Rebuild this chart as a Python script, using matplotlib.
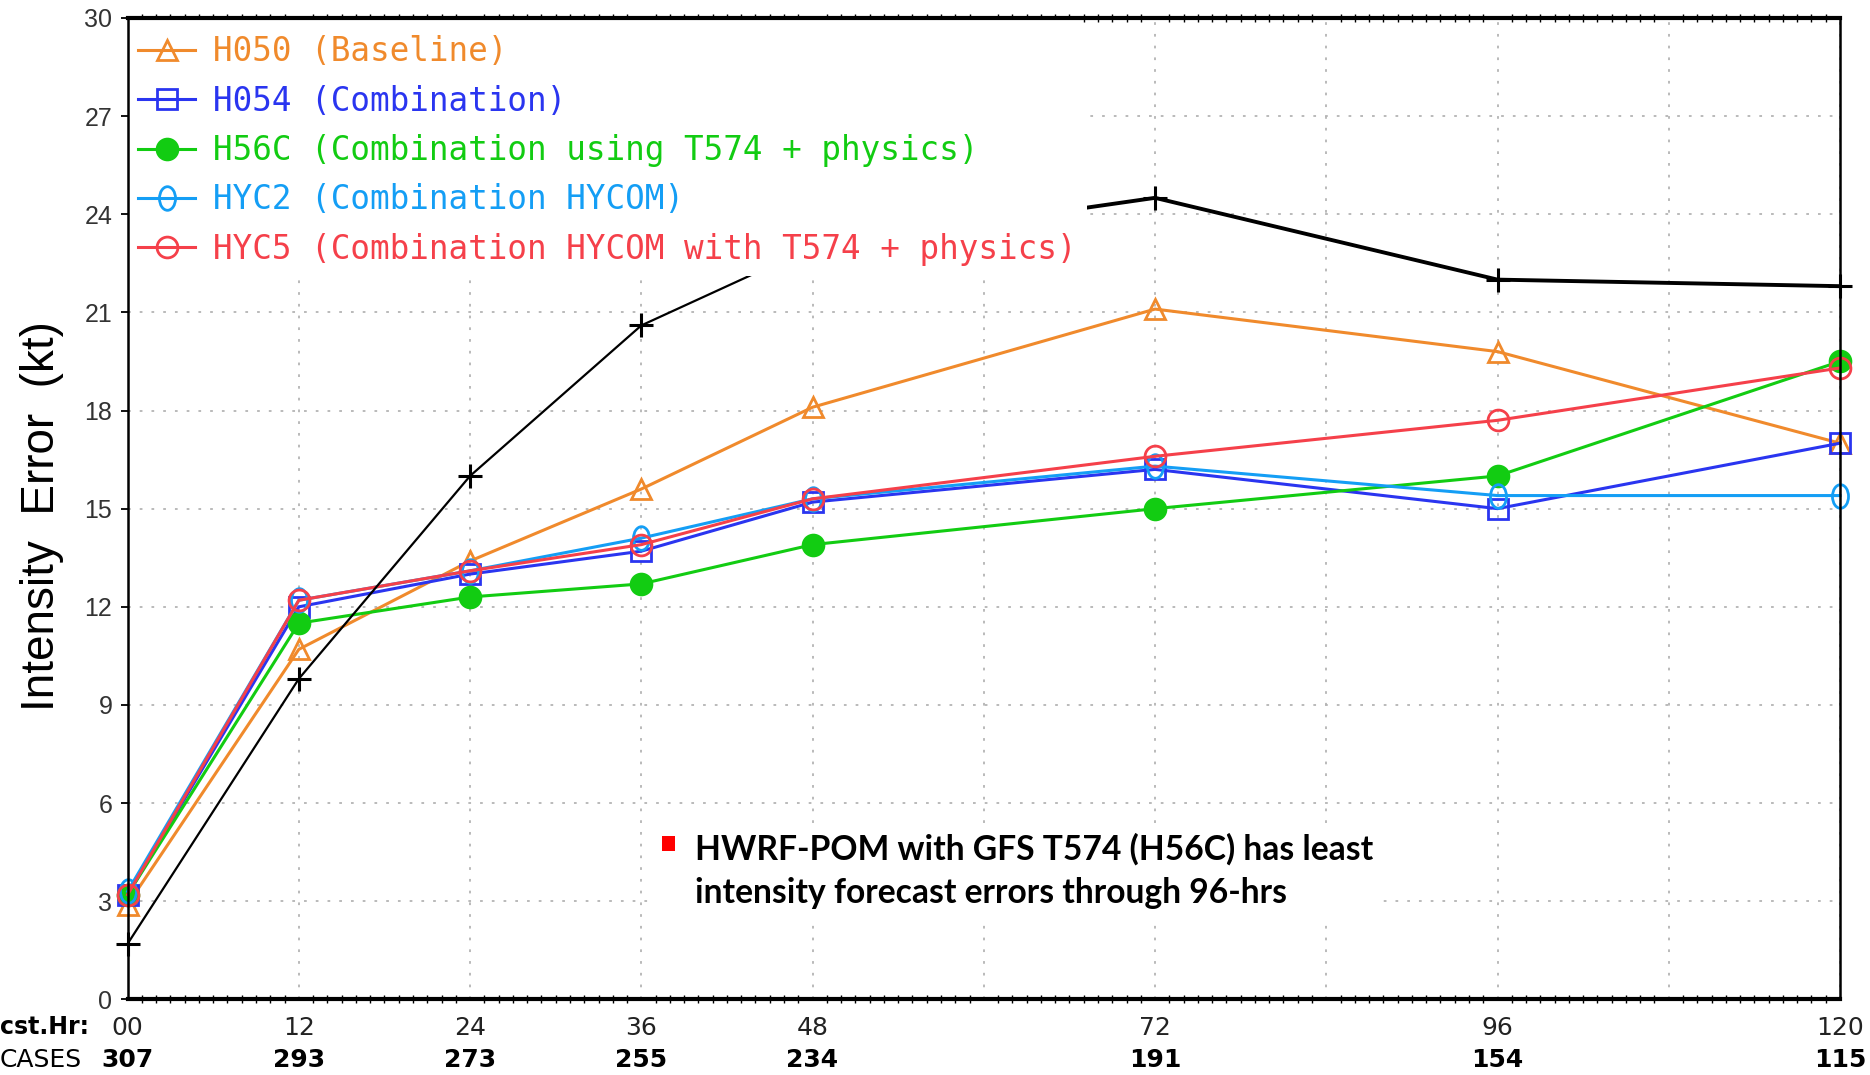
import numpy as np
import matplotlib
matplotlib.use("Agg")
import matplotlib.pyplot as plt
from matplotlib.path import Path
from matplotlib.patches import Rectangle

# ---------------- data ----------------
hours = [0, 12, 24, 36, 48, 72, 96, 120]
hour_labels = ['00', '12', '24', '36', '48', '72', '96', '120']
cases = [307, 293, 273, 255, 234, 191, 154, 115]

h050 = [2.9, 10.7, 13.4, 15.6, 18.1, 21.1, 19.8, 17.0]
h054 = [3.2, 12.0, 13.0, 13.7, 15.2, 16.2, 15.0, 17.0]
h56c = [3.2, 11.5, 12.3, 12.7, 13.9, 15.0, 16.0, 19.5]
hyc2 = [3.3, 12.2, 13.1, 14.1, 15.3, 16.3, 15.4, 15.4]
hyc5 = [3.2, 12.2, 13.1, 13.9, 15.3, 16.6, 17.7, 19.3]
reference_model = [1.7, 9.8, 16.0, 20.6, 23.0, 24.5, 22.0, 21.8]

series_labels = ['H050 (Baseline)',
                 'H054 (Combination)',
                 'H56C (Combination using T574 + physics)',
                 'HYC2 (Combination HYCOM)',
                 'HYC5 (Combination HYCOM with T574 + physics)']
series_colors = ['#F08A2C', '#2A35F0', '#12CC12', '#149EF5', '#F5404A']

note_lines = ['HWRF-POM with GFS T574 (H56C) has least',
              'intensity forecast errors through 96-hrs']

# ---------------- figure ----------------
W, H = 1870, 1075
fig = plt.figure(figsize=(W / 100, H / 100), dpi=100)
ax_l, ax_r, ax_t, ax_b = 127.6, 1840.0, 17.9, 999.4
ax = fig.add_axes([ax_l / W, (H - ax_b) / H, (ax_r - ax_l) / W, (ax_b - ax_t) / H])

ax.set_xlim(0, 120)
ax.set_ylim(0, 30)

# ellipse marker for HYC2
circ = Path.unit_circle()
ellipse = Path(circ.vertices * np.array([0.68, 1.0]), circ.codes)

lw = 2.2
mew = 2.0
line_specs = [
    (h050, '^', 'none', 14),
    (h054, 's', 'none', 14),
    (h56c, 'o', 'fill', 15),
    (hyc2, ellipse, 'none', 17),
    (hyc5, 'o', 'none', 15),
]
handles = []
for (vals, mk, fill, ms), lab, col in zip(line_specs, series_labels, series_colors):
    mfc = col if fill == 'fill' else 'none'
    ln, = ax.plot(hours, vals, color=col, lw=lw, marker=mk, ms=ms, mfc=mfc,
                  mec=col, mew=mew, label=lab, clip_on=False, zorder=3)
    handles.append(ln)

# black line (no legend entry); thinner early segment, thicker later
ax.plot(hours[:5], reference_model[:5], color='black', lw=1.6, marker='+', ms=17,
        mew=2.2, clip_on=False, zorder=4)
ax.plot(hours[4:], reference_model[4:], color='black', lw=2.8, marker='+', ms=17,
        mew=2.2, clip_on=False, zorder=4)

# grid & ticks
major_x = np.arange(0, 121, 12)
ax.set_xticks(major_x)
ax.set_xticklabels([hour_labels[hours.index(t)] if t in hours else '' for t in major_x],
                   fontsize=18, family='DejaVu Sans', color='#222222')
ax.set_xticks(np.arange(0, 121, 1), minor=True)
ax.set_yticks(np.arange(0, 31, 3))
ax.set_yticklabels([str(v) for v in range(0, 31, 3)], fontsize=18,
                   family='Liberation Sans', color='#333333')
ax.tick_params(axis='x', which='major', length=0, pad=12)
ax.tick_params(axis='x', which='minor', direction='inout', length=6, width=1.0,
               top=True, bottom=True)
ax.tick_params(axis='y', which='major', direction='out', length=5, width=1.3, pad=6)
ax.grid(True, which='major', color='#b4b4b4', ls=(0, (1.5, 5)), lw=1.3, zorder=0)

for side in ['top', 'bottom']:
    ax.spines[side].set_linewidth(3.0)
for side in ['left', 'right']:
    ax.spines[side].set_linewidth(1.8)
for side in ax.spines:
    ax.spines[side].set_zorder(20)

ax.set_ylabel('Intensity  Error  (kt)', fontsize=33, family='Liberation Sans',
              va='center')
ax.yaxis.set_label_coords((42 - ax_l) / (ax_r - ax_l), 0.492)

# legend
leg = ax.legend(handles=handles, loc='upper left',
                bbox_to_anchor=(0, 1 - 7 / (ax_b - ax_t)),
                borderaxespad=0.0, borderpad=0.32, frameon=True, fancybox=False,
                framealpha=1.0, facecolor='white', edgecolor='none',
                prop={'family': 'DejaVu Sans Mono', 'size': 23.5},
                labelcolor='linecolor', handlelength=1.75, handletextpad=0.55,
                labelspacing=0.5, markerscale=1.0)
leg.set_zorder(10)
# white strip above the legend up to the top spine
ax.add_patch(Rectangle((0, 1 - 8 / (ax_b - ax_t)), (1080 - ax_l) / (ax_r - ax_l),
                       8 / (ax_b - ax_t), transform=ax.transAxes, facecolor='white',
                       edgecolor='none', zorder=9))

# bottom-row labels
fig.text(0, (H - 1027) / H, 'cst.Hr:', fontsize=17, family='DejaVu Sans',
         fontweight='bold', ha='left', va='center')
fig.text(0, (H - 1060) / H, 'CASES', fontsize=18, family='DejaVu Sans',
         ha='left', va='center')
xt = ax.get_xaxis_transform()
for h, c in zip(hours, cases):
    ax.text(h, -(1060 - ax_b) / (ax_b - ax_t), str(c), transform=xt, ha='center',
            va='center', fontsize=18, family='DejaVu Sans', fontweight='bold',
            clip_on=False)

# annotation box
def ax_x(px):
    return (px - ax_l) / (ax_r - ax_l)

def ax_y(py):
    return (ax_b - py) / (ax_b - ax_t)

ax.add_patch(Rectangle((ax_x(655), ax_y(918)), ax_x(1375) - ax_x(655),
                       ax_y(825) - ax_y(918), transform=ax.transAxes,
                       facecolor='white', edgecolor='none', zorder=5))
ax.add_patch(Rectangle((ax_x(662), ax_y(851)), ax_x(675) - ax_x(662),
                       ax_y(836) - ax_y(851), transform=ax.transAxes,
                       facecolor='#FF0000', edgecolor='none', zorder=6))
ax.text(ax_x(695), ax_y(849), note_lines[0], transform=ax.transAxes, ha='left',
        va='center', fontsize=24.2, family='Lato', fontweight='bold', zorder=6)
ax.text(ax_x(695), ax_y(893), note_lines[1], transform=ax.transAxes, ha='left',
        va='center', fontsize=24.2, family='Lato', fontweight='bold', zorder=6)

fig.savefig('out.png', dpi=100)
